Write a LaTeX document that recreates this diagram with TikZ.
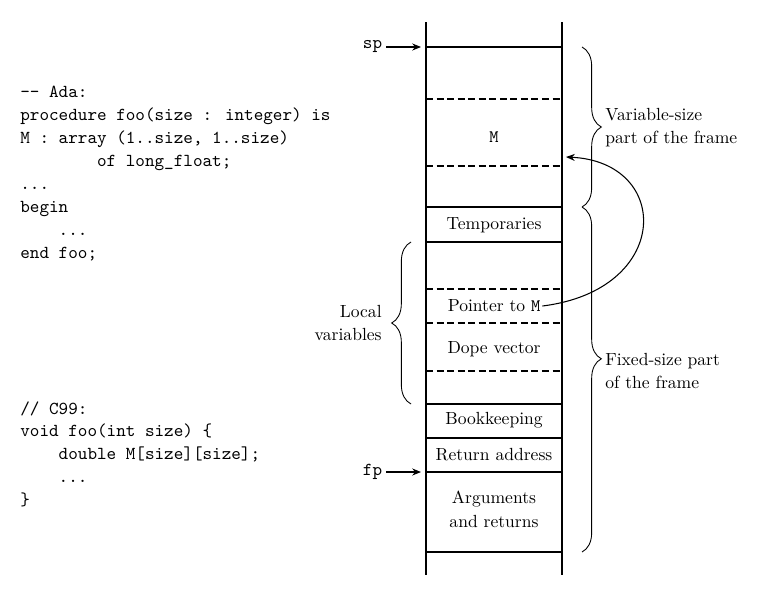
\documentclass[tikz,border=0pt]{standalone}
\usepackage{tikz}
\usetikzlibrary{arrows.meta, positioning, decorations.pathreplacing}

\begin{document}
\begin{tikzpicture}[
  x=0.02cm, y=-0.02cm,
  code/.style={anchor=north west, inner sep=0pt, align=left,
               font=\fontsize{10.4}{13.04}\selectfont\ttfamily},
  slot/.style={inner sep=1pt, align=center, font=\fontsize{10}{13.5}\selectfont},
  remark/.style={inner sep=0pt, font=\fontsize{10}{13.2}\selectfont},
  reg/.style={inner sep=2pt, anchor=east, font=\fontsize{10.4}{13}\selectfont\ttfamily},
  wall/.style={line width=0.8pt},
  dashsep/.style={line width=0.8pt, dash pattern=on 4pt off 2pt},
  arr/.style={-{Stealth[length=5pt,width=4pt]}, line width=0.6pt},
  brc/.style={decorate, decoration={brace, amplitude=11pt}, line width=0.5pt},
]
\useasboundingbox (0,0) rectangle (766,612);

% source code
\node[code] (ada) at (20,86) {-- Ada:\\
procedure foo(size : integer) is\\
M : array (1..size, 1..size)\\
\phantom{xxxxxxxx}of long\_float;\\
...\\
begin\\
\phantom{xxxx}...\\
end foo;};
\node[code] (cc) at (20,401) {// C99:\\
void foo(int size) \{\\
\phantom{xxxx}double M[size][size];\\
\phantom{xxxx}...\\
\}};

% the frame
\draw[wall] (426,22) -- (426,575);
\draw[wall] (562,22) -- (562,575);
\foreach \y in {47,207,242,404,438,472,552}
  \draw[wall] (426,\y) -- (562,\y);
\foreach \y in {99,166,289,323,371}
  \draw[dashsep] (426,\y) -- (562,\y);

\node[slot] (m)    at (494,137) {\texttt{M}};
\node[slot] (temp) at (494,225) {Temporaries};
\node[slot] (ptr)  at (494,306) {Pointer to \texttt{M}};
\node[slot] (dope) at (494,349) {Dope vector};
\node[slot] (book) at (494,420) {Bookkeeping};
\node[slot] (ret)  at (494,455) {Return address};
\node[slot] (args) at (494,509) {Arguments\\and returns};

% registers
\node[reg] (sp) at (386,47)  {sp};
\node[reg] (fp) at (386,472) {fp};
\coordinate (sptop) at (421,47);
\coordinate (fptop) at (421,472);
\draw[arr] (sp.east) -- (sptop);
\draw[arr] (fp.east) -- (fptop);

% pointer to M
\coordinate (mref) at (566,157);
\draw[arr] (ptr.east) .. controls (672,290) and (672,162) .. (mref);

% braces
\coordinate (vtop) at (582,47);
\coordinate (vbot) at (582,207);
\coordinate (fbot) at (582,552);
\coordinate (ltop) at (411,242);
\coordinate (lbot) at (411,404);
\draw[brc] (vtop) -- (vbot);
\draw[brc, decoration={aspect=0.44}] (vbot) -- (fbot);
\draw[brc] (lbot) -- (ltop);

\node[remark, anchor=west, align=left]  (varpart) at (605,128) {Variable-size\\part of the frame};
\node[remark, anchor=west, align=left]  (fixpart) at (605,371) {Fixed-size part\\of the frame};
\node[remark, anchor=east, align=right] (locals)  at (382,323) {Local\\variables};
\end{tikzpicture}
\end{document}
